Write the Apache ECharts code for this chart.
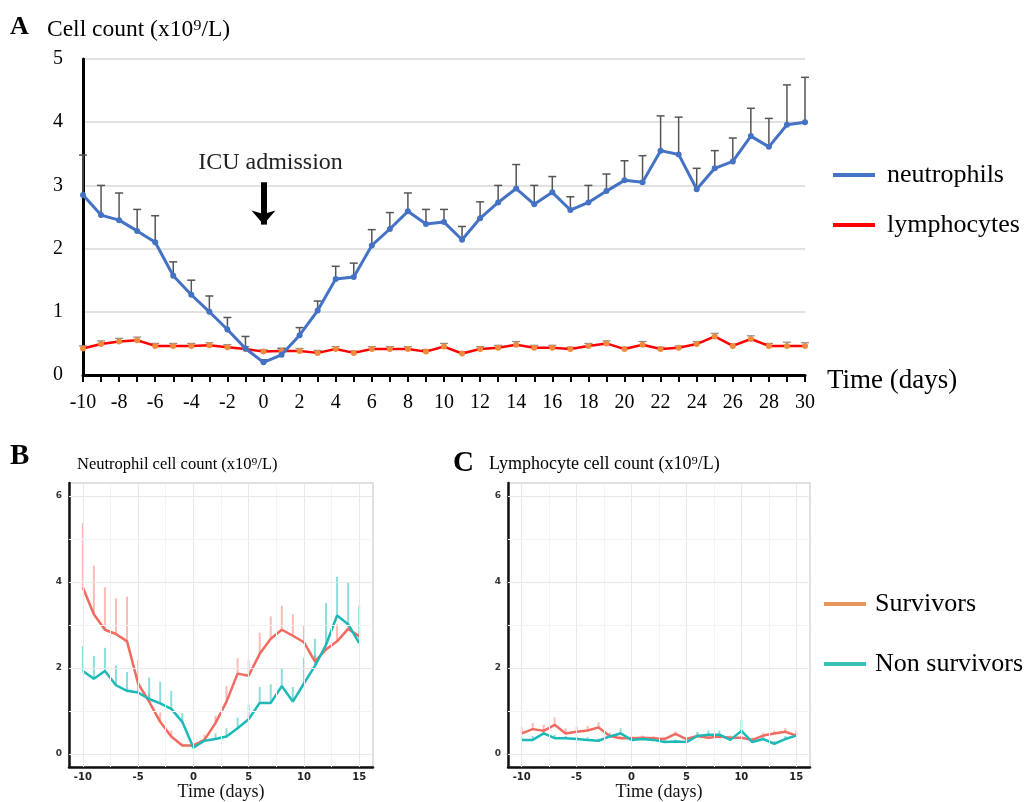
<!DOCTYPE html>
<html lang="en">
  <head>
    <meta charset="UTF-8" />
    <title>Neutrophil and lymphocyte counts</title>
    <script src="https://cdn.jsdelivr.net/npm/echarts@6/dist/echarts.min.js"></script>
    <style>
      html, body { margin: 0; padding: 0; background: #fff; }
      #app { width: 1032px; height: 802px; }
    </style>
  </head>
  <body>
    <div id="app"></div>
    <script>
      // panel A: days -10..30
      const daysA = ["-10","-9","-8","-7","-6","-5","-4","-3","-2","-1","0","1","2","3","4","5","6","7","8","9","10",
        "11","12","13","14","15","16","17","18","19","20","21","22","23","24","25","26","27","28","29","30"];
      const neutrophils = [2.85,2.53,2.45,2.28,2.10,1.57,1.27,1.00,0.72,0.42,0.20,0.32,0.63,1.02,1.52,1.55,2.05,2.31,2.59,
        2.39,2.42,2.14,2.48,2.73,2.95,2.70,2.89,2.61,2.73,2.91,3.08,3.05,3.55,3.49,2.94,3.27,3.38,3.78,3.61,3.96,4.00];
      const neutrophilsUpper = [3.48,3.00,2.88,2.62,2.52,1.79,1.50,1.25,0.91,0.61,0.24,0.42,0.75,1.17,1.72,1.77,2.30,2.57,2.88,
        2.62,2.62,2.35,2.74,3.00,3.33,3.00,3.14,2.82,3.00,3.18,3.39,3.47,4.10,4.08,3.27,3.55,3.75,4.22,4.06,4.59,4.71];
      const lymphocytes = [0.42,0.49,0.53,0.55,0.46,0.46,0.46,0.47,0.44,0.41,0.37,0.38,0.38,0.35,0.41,0.35,0.41,0.41,0.41,
        0.37,0.45,0.34,0.41,0.43,0.48,0.43,0.43,0.41,0.46,0.50,0.41,0.48,0.41,0.43,0.49,0.61,0.46,0.57,0.46,0.46,0.46];
      const lymphocytesUpper = [0.46,0.54,0.58,0.60,0.50,0.50,0.50,0.51,0.48,0.45,0.40,0.42,0.42,0.39,0.45,0.38,0.45,0.45,0.45,
        0.40,0.50,0.37,0.45,0.47,0.53,0.47,0.47,0.44,0.50,0.54,0.44,0.53,0.44,0.46,0.53,0.66,0.49,0.62,0.50,0.52,0.51];

      // panels B and C: days -10..15
      const daysBC = [-10,-9,-8,-7,-6,-5,-4,-3,-2,-1,0,1,2,3,4,5,6,7,8,9,10,11,12,13,14,15];
      const survNeut = [3.87,3.25,2.89,2.79,2.62,1.64,1.22,0.75,0.41,0.20,0.20,0.33,0.72,1.22,1.87,1.82,2.33,2.68,2.89,2.75,2.60,2.15,2.43,2.62,2.91,2.74];
      const survNeutUpper = [5.37,4.38,3.88,3.62,3.66,2.19,1.40,0.97,0.55,0.25,0.25,0.45,0.89,1.58,2.23,2.18,2.82,3.20,3.45,3.25,2.98,2.30,2.60,3.02,3.00,2.80];
      const nonSurvNeut = [1.93,1.75,1.93,1.60,1.47,1.43,1.28,1.18,1.05,0.75,0.15,0.31,0.35,0.41,0.60,0.81,1.19,1.19,1.58,1.22,1.64,2.05,2.54,3.22,3.02,2.58];
      const nonSurvNeutUpper = [2.51,2.28,2.47,2.06,1.91,1.68,1.78,1.68,1.47,0.95,0.20,0.35,0.48,0.60,0.85,1.15,1.56,1.62,2.00,1.56,2.24,2.68,3.51,4.12,3.98,3.45];
      const survLymph = [0.48,0.58,0.54,0.68,0.48,0.52,0.55,0.62,0.42,0.37,0.37,0.38,0.37,0.35,0.47,0.35,0.42,0.38,0.41,0.38,0.38,0.33,0.43,0.48,0.52,0.43];
      const survLymphUpper = [0.62,0.72,0.68,0.85,0.60,0.64,0.66,0.74,0.50,0.42,0.42,0.43,0.42,0.40,0.53,0.40,0.48,0.44,0.47,0.43,0.43,0.38,0.50,0.55,0.60,0.49];
      const nonSurvLymph = [0.33,0.33,0.48,0.37,0.37,0.35,0.33,0.31,0.41,0.48,0.33,0.35,0.33,0.28,0.29,0.28,0.42,0.45,0.45,0.33,0.54,0.28,0.35,0.24,0.35,0.43];
      const nonSurvLymphUpper = [0.40,0.42,0.55,0.45,0.42,0.40,0.40,0.36,0.48,0.60,0.38,0.40,0.38,0.33,0.34,0.33,0.52,0.55,0.55,0.40,0.80,0.33,0.42,0.30,0.42,0.55];

      // tick/grid positions for B and C
      const ticksXBC = [-10, -5, 0, 5, 10, 15];
      const minorXBC = [-7.5, -2.5, 2.5, 7.5, 12.5];
      const ticksYBC = [0, 2, 4, 6];
      const minorYBC = [1, 3, 5];

      const serif = "Liberation Serif";
      const salmon = "#F26B60";
      const teal = "#1DB9B9";

      const chart = echarts.init(document.getElementById("app"));

      function errorBars(capHalf, color, width) {
        return function (params, api) {
          const lo = api.coord([api.value(0), api.value(1)]);
          const hi = api.coord([api.value(0), api.value(2)]);
          const style = { stroke: color, lineWidth: width };
          const children = [
            { type: "line", shape: { x1: lo[0], y1: lo[1], x2: hi[0], y2: hi[1] }, style: style }
          ];
          if (capHalf) {
            children.push({ type: "line", shape: { x1: hi[0] - capHalf, y1: hi[1], x2: hi[0] + capHalf, y2: hi[1] }, style: style });
          }
          return { type: "group", children: children };
        };
      }

      function pairs(xs, ys) { return xs.map((x, i) => [x, ys[i]]); }
      function triples(xs, ys, us) { return xs.map((x, i) => [x, ys[i], us[i]]); }

      const idxA = daysA.map((d, i) => i);

      const smallAxis = (idx) => ({
        gridIndex: idx,
        type: "value",
        min: -11.25, max: 16.25,
        axisLine: { show: true, onZero: false, lineStyle: { color: "#111", width: 2.5 } },
        axisTick: { show: false },
        splitLine: { show: false },
        axisLabel: { customValues: ticksXBC, color: "#222", fontFamily: "DejaVu Sans", fontWeight: "bold", fontSize: 10, margin: 5 },
        name: "Time (days)", nameLocation: "middle", nameGap: 16,
        nameTextStyle: { fontFamily: serif, fontSize: 18, color: "#111" }
      });
      const smallYAxis = (idx) => ({
        gridIndex: idx,
        type: "value",
        min: -0.3, max: 6.3,
        axisLine: { show: true, onZero: false, lineStyle: { color: "#111", width: 2.5 } },
        axisTick: { show: false },
        splitLine: { show: false },
        axisLabel: { customValues: ticksYBC, color: "#333", fontFamily: "DejaVu Sans", fontWeight: "bold", fontSize: 9, margin: 7 }
      });

      const gridLines = (idx) => ({
        type: "line", xAxisIndex: idx, yAxisIndex: idx, data: [[-10, 0]], showSymbol: false, silent: true, z: 1,
        lineStyle: { opacity: 0 },
        markLine: {
          silent: true, symbol: "none", animation: false, label: { show: false },
          data: [].concat(
            ticksXBC.map(v => ({ xAxis: v, lineStyle: { color: "#e8e8e8", width: 1, type: "solid" } })),
            minorXBC.map(v => ({ xAxis: v, lineStyle: { color: "#f3f3f3", width: 1, type: "solid" } })),
            ticksYBC.map(v => ({ yAxis: v, lineStyle: { color: "#e8e8e8", width: 1, type: "solid" } })),
            minorYBC.map(v => ({ yAxis: v, lineStyle: { color: "#f3f3f3", width: 1, type: "solid" } }))
          )
        }
      });

      const titleText = (size, bold) => ({ fontFamily: serif, fontWeight: bold ? "bold" : "normal", fontSize: size, color: "#000" });

      const option = {
        animation: false,
        backgroundColor: "#fff",
        title: [
          { text: "A", left: 10, top: 14, padding: 0, textStyle: titleText(26, true) },
          { text: "Cell count (x10⁹/L)", left: 47, top: 18, padding: 0, textStyle: titleText(23.5, false) },
          { text: "B", left: 10, top: 442, padding: 0, textStyle: titleText(29, true) },
          { text: "Neutrophil cell count (x10⁹/L)", left: 77, top: 456, padding: 0, textStyle: titleText(16.5, false) },
          { text: "C", left: 453, top: 449, padding: 0, textStyle: titleText(29, true) },
          { text: "Lymphocyte cell count (x10⁹/L)", left: 489, top: 455, padding: 0, textStyle: titleText(18, false) }
        ],
        legend: [
          {
            orient: "vertical", left: 833, top: 162, padding: 0, itemWidth: 42, itemHeight: 4, itemGap: 24, icon: "rect",
            textStyle: { fontFamily: serif, fontSize: 26, color: "#000", padding: [0, 0, 0, 7] },
            data: [
              { name: "neutrophils", itemStyle: { color: "#4472C4" } },
              { name: "lymphocytes", itemStyle: { color: "#FF0000" } }
            ]
          },
          {
            orient: "vertical", left: 824, top: 591, padding: 0, itemWidth: 42, itemHeight: 4, itemGap: 34, icon: "rect",
            textStyle: { fontFamily: serif, fontSize: 26, color: "#000", padding: [0, 0, 0, 4] },
            data: [
              { name: "Survivors", itemStyle: { color: "#E8975C" } },
              { name: "Non survivors", itemStyle: { color: "#3CC2B5" } }
            ]
          }
        ],
        grid: [
          { left: 83, top: 59, width: 722, height: 316 },
          { left: 69, top: 483, width: 304, height: 286, show: true, borderColor: "#d6d6d6", borderWidth: 1.5, backgroundColor: "transparent" },
          { left: 508, top: 483, width: 302, height: 286, show: true, borderColor: "#d6d6d6", borderWidth: 1.5, backgroundColor: "transparent" }
        ],
        xAxis: [
          {
            gridIndex: 0,
            type: "category",
            data: daysA,
            boundaryGap: false,
            axisLine: { lineStyle: { color: "#000", width: 3 } },
            axisTick: { show: true, interval: 0, length: 7, lineStyle: { color: "#000", width: 2 } },
            axisLabel: { interval: 1, fontFamily: serif, fontSize: 20, color: "#000", margin: 18 },
            name: "Time (days)", nameLocation: "end", nameGap: 22,
            nameTextStyle: { fontFamily: serif, fontSize: 27, color: "#000", verticalAlign: "top", lineHeight: 12 }
          },
          smallAxis(1),
          smallAxis(2)
        ],
        yAxis: [
          {
            gridIndex: 0,
            type: "value",
            min: 0, max: 5, interval: 1,
            axisLine: { show: true, lineStyle: { color: "#000", width: 3 } },
            axisTick: { show: false },
            splitLine: { lineStyle: { color: "#d9d9d9", width: 1.5 } },
            axisLabel: { fontFamily: serif, fontSize: 20, color: "#000", margin: 20 }
          },
          smallYAxis(1),
          smallYAxis(2)
        ],
        series: [
          // panel A
          {
            name: "lymphocytes error", type: "custom", xAxisIndex: 0, yAxisIndex: 0, z: 3,
            renderItem: errorBars(4, "#8a8a8a", 1.2),
            data: triples(idxA, lymphocytes, lymphocytesUpper)
          },
          {
            name: "neutrophils error", type: "custom", xAxisIndex: 0, yAxisIndex: 0, z: 3,
            renderItem: errorBars(4, "#555", 1.5),
            data: triples(idxA, neutrophils, neutrophilsUpper)
          },
          {
            name: "lymphocytes", type: "line", xAxisIndex: 0, yAxisIndex: 0, z: 4,
            data: lymphocytes,
            symbol: "circle", symbolSize: 6, showSymbol: true,
            lineStyle: { color: "#FF0000", width: 2.5 },
            itemStyle: { color: "#F08A3C" }
          },
          {
            name: "neutrophils", type: "line", xAxisIndex: 0, yAxisIndex: 0, z: 5,
            data: neutrophils,
            symbol: "circle", symbolSize: 6, showSymbol: true,
            lineStyle: { color: "#4472C4", width: 3 },
            itemStyle: { color: "#4472C4" },
            markLine: {
              silent: true, animation: false,
              symbol: ["none", "arrow"], symbolSize: [18, 14],
              lineStyle: { color: "#000", width: 6, type: "solid" },
              label: { show: true, position: "start", formatter: "ICU admission", fontFamily: serif, fontSize: 24, color: "#222", distance: 8, offset: [7, 0] },
              data: [[{ coord: ["0", 3.05] }, { coord: ["0", 2.38] }]]
            }
          },
          // panel B
          gridLines(1),
          {
            name: "Survivors error B", type: "custom", xAxisIndex: 1, yAxisIndex: 1, z: 2,
            renderItem: errorBars(0, "rgba(242,107,96,0.45)", 2),
            data: triples(daysBC, survNeut, survNeutUpper)
          },
          {
            name: "Non survivors error B", type: "custom", xAxisIndex: 1, yAxisIndex: 1, z: 2,
            renderItem: errorBars(0, "rgba(29,185,185,0.5)", 2),
            data: triples(daysBC, nonSurvNeut, nonSurvNeutUpper)
          },
          {
            name: "Survivors", type: "line", xAxisIndex: 1, yAxisIndex: 1, z: 3,
            data: pairs(daysBC, survNeut), showSymbol: false,
            lineStyle: { color: salmon, width: 2.5 }, itemStyle: { color: salmon }
          },
          {
            name: "Non survivors", type: "line", xAxisIndex: 1, yAxisIndex: 1, z: 4,
            data: pairs(daysBC, nonSurvNeut), showSymbol: false,
            lineStyle: { color: teal, width: 2.5 }, itemStyle: { color: teal }
          },
          // panel C
          gridLines(2),
          {
            name: "Survivors error C", type: "custom", xAxisIndex: 2, yAxisIndex: 2, z: 2,
            renderItem: errorBars(0, "rgba(242,107,96,0.45)", 2),
            data: triples(daysBC, survLymph, survLymphUpper)
          },
          {
            name: "Non survivors error C", type: "custom", xAxisIndex: 2, yAxisIndex: 2, z: 2,
            renderItem: errorBars(0, "rgba(29,185,185,0.5)", 2),
            data: triples(daysBC, nonSurvLymph, nonSurvLymphUpper)
          },
          {
            name: "Survivors", type: "line", xAxisIndex: 2, yAxisIndex: 2, z: 3,
            data: pairs(daysBC, survLymph), showSymbol: false,
            lineStyle: { color: salmon, width: 2.5 }, itemStyle: { color: salmon }
          },
          {
            name: "Non survivors", type: "line", xAxisIndex: 2, yAxisIndex: 2, z: 4,
            data: pairs(daysBC, nonSurvLymph), showSymbol: false,
            lineStyle: { color: teal, width: 2.5 }, itemStyle: { color: teal }
          }
        ]
      };

      chart.setOption(option);
    </script>
  </body>
</html>
